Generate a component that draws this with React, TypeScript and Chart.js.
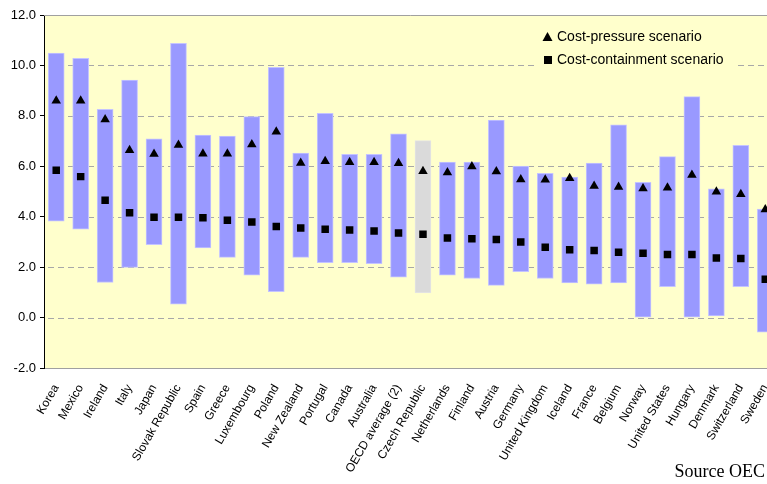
import React, { useEffect, useRef } from "react";
import { Chart, registerables } from "chart.js";

Chart.register(...registerables);

const categories = [
  "Korea", "Mexico", "Ireland", "Italy", "Japan", "Slovak Republic", "Spain", "Greece",
  "Luxembourg", "Poland", "New Zealand", "Portugal", "Canada", "Australia", "OECD average (2)",
  "Czech Republic", "Netherlands", "Finland", "Austria", "Germany", "United Kingdom", "Iceland",
  "France", "Belgium", "Norway", "United States", "Hungary", "Denmark", "Switzerland", "Sweden",
];

const rangeHigh = [10.49, 10.28, 8.26, 9.42, 7.09, 10.88, 7.24, 7.2, 7.97, 9.92, 6.52, 8.1, 6.47, 6.47, 7.29, 7.02, 6.17, 6.17, 7.83, 6.01, 5.72, 5.57, 6.13, 7.64, 5.36, 6.38, 8.76, 5.11, 6.83, 4.3];
const rangeLow = [3.82, 3.51, 1.39, 1.99, 2.89, 0.53, 2.76, 2.39, 1.68, 1.03, 2.39, 2.18, 2.18, 2.14, 1.6, 0.98, 1.68, 1.55, 1.28, 1.82, 1.55, 1.37, 1.32, 1.37, 0.0, 1.23, 0.0, 0.07, 1.23, -0.58];
const costPressure = [8.6, 8.6, 7.86, 6.64, 6.49, 6.84, 6.5, 6.5, 6.86, 7.37, 6.13, 6.2, 6.16, 6.16, 6.12, 5.8, 5.75, 5.99, 5.79, 5.48, 5.47, 5.53, 5.22, 5.18, 5.12, 5.15, 5.65, 4.99, 4.89, 4.29];
const costContainment = [5.84, 5.59, 4.65, 4.16, 3.98, 3.98, 3.96, 3.86, 3.79, 3.61, 3.55, 3.5, 3.47, 3.43, 3.35, 3.3, 3.16, 3.13, 3.1, 3.0, 2.79, 2.69, 2.66, 2.59, 2.55, 2.5, 2.5, 2.36, 2.34, 1.52];
const gridValues = [0, 2, 4, 6, 8, 10];
const legendLabels = ["Cost-pressure scenario", "Cost-containment scenario"];
const highlightCategory = "Czech Republic";

const PLOT_BG = "#FFFFCC";
const BAR_FILL = "#9999FF";
const BAR_BORDER = "#C4C4FF";
const GREY_FILL = "#DADADA";
const GREY_BORDER = "#E4E4E4";
const FONT = "'Liberation Sans', Arial, sans-serif";

const plotPlugin = {
  id: "plotDecor",
  beforeDraw(chart: any) {
    const { ctx, chartArea } = chart;
    ctx.save();
    ctx.fillStyle = PLOT_BG;
    ctx.fillRect(chartArea.left, chartArea.top, chartArea.right - chartArea.left, chartArea.bottom - chartArea.top);
    ctx.restore();
  },
  beforeDatasetsDraw(chart: any) {
    const { ctx, chartArea, scales } = chart;
    const y = scales.y;
    ctx.save();
    ctx.strokeStyle = "#A8A8A8";
    ctx.lineWidth = 1;
    ctx.setLineDash([6, 4]);
    gridValues.forEach((v) => {
      const py = Math.round(y.getPixelForValue(v)) + 0.5;
      ctx.beginPath();
      ctx.moveTo(chartArea.left + 4, py);
      ctx.lineTo(chartArea.right, py);
      ctx.stroke();
    });
    ctx.setLineDash([]);
    const top = Math.round(y.getPixelForValue(12)) + 0.5;
    ctx.strokeStyle = "#A0A0A0";
    ctx.beginPath();
    ctx.moveTo(chartArea.left, top);
    ctx.lineTo(chartArea.right, top);
    ctx.stroke();
    ctx.restore();
  },
  afterDraw(chart: any) {
    const { ctx } = chart;
    ctx.save();
    ctx.fillStyle = PLOT_BG;
    ctx.fillRect(537, 24, 198, 46);
    ctx.fillStyle = "#000";
    ctx.beginPath();
    ctx.moveTo(547.5, 32);
    ctx.lineTo(552.5, 41);
    ctx.lineTo(542.5, 41);
    ctx.closePath();
    ctx.fill();
    ctx.fillRect(544, 56, 8, 8);
    ctx.font = `14px ${FONT}`;
    ctx.textBaseline = "middle";
    ctx.textAlign = "left";
    ctx.fillText(legendLabels[0], 557, 37);
    ctx.fillText(legendLabels[1], 557, 60);
    ctx.restore();
  },
};

export default function App() {
  const canvasRef = useRef<HTMLCanvasElement | null>(null);

  useEffect(() => {
    if (!canvasRef.current) return;
    const chart = new Chart(canvasRef.current, {
      type: "bar",
      data: {
        labels: categories,
        datasets: [
          {
            type: "line",
            label: legendLabels[0],
            data: costPressure,
            showLine: false,
            pointStyle: "triangle",
            pointRadius: 5.5,
            pointBackgroundColor: "#000",
            pointBorderColor: "#000",
            pointBorderWidth: 0,
            order: 0,
          },
          {
            type: "line",
            label: legendLabels[1],
            data: costContainment,
            showLine: false,
            pointStyle: "rect",
            pointRadius: 5.3,
            pointBackgroundColor: "#000",
            pointBorderColor: "#000",
            pointBorderWidth: 0,
            order: 0,
          },
          {
            type: "bar",
            label: "Range",
            data: rangeLow.map((lo, i) => [lo, rangeHigh[i]]),
            backgroundColor: categories.map((c) => (c === highlightCategory ? GREY_FILL : BAR_FILL)),
            borderColor: categories.map((c) => (c === highlightCategory ? GREY_BORDER : BAR_BORDER)),
            borderWidth: 1,
            borderSkipped: false,
            barThickness: 16,
            grouped: false,
            order: 1,
          } as any,
        ],
      },
      options: {
        responsive: false,
        animation: false,
        layout: { padding: { top: 15, right: 0, left: 0, bottom: 0 } },
        plugins: {
          legend: { display: false },
          tooltip: { enabled: false },
        },
        scales: {
          x: {
            type: "category",
            offset: true,
            grid: { display: true, drawOnChartArea: false, drawTicks: false },
            border: { display: true, color: "#A0A0A0", width: 1 },
            ticks: {
              autoSkip: false,
              minRotation: 60,
              maxRotation: 60,
              padding: 14,
              color: "#000",
              font: { family: FONT, size: 12 },
            },
            afterFit: (scale: any) => {
              scale.height = 116;
              scale.paddingLeft = 0;
              scale.paddingRight = 0;
            },
          },
          y: {
            type: "linear",
            min: -2,
            max: 12,
            ticks: {
              stepSize: 2,
              padding: 4,
              color: "#000",
              font: { family: FONT, size: 13 },
              callback: (v: any) => Number(v).toFixed(1),
            },
            grid: { display: true, drawOnChartArea: false, drawTicks: true, tickLength: 4, tickColor: "#000" },
            border: { display: true, color: "#000", width: 1 },
            afterFit: (scale: any) => {
              scale.width = 44;
              scale.paddingTop = 0;
              scale.paddingBottom = 0;
            },
          },
        },
      },
      plugins: [plotPlugin],
    });
    return () => chart.destroy();
  }, []);

  return (
    <div
      style={{
        position: "fixed",
        left: 0,
        top: 0,
        width: 767,
        height: 484,
        overflow: "hidden",
        background: "#fff",
      }}
    >
      <canvas ref={canvasRef} width={783} height={484} style={{ position: "absolute", left: 0, top: 0 }} />
      <div
        style={{
          position: "absolute",
          right: 2,
          top: 460,
          fontFamily: "'Liberation Serif', 'Times New Roman', serif",
          fontSize: 18,
          lineHeight: "22px",
          color: "#000",
          whiteSpace: "nowrap",
        }}
      >
        Source OEC
      </div>
    </div>
  );
}
